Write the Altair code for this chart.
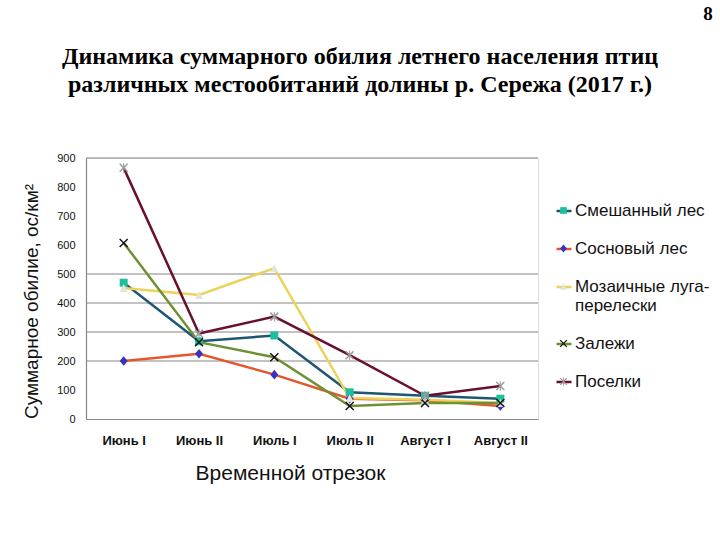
import altair as alt
import pandas as pd

periods = ["Июнь I", "Июнь II", "Июль I", "Июль II", "Август I", "Август II"]
series = ["Смешанный лес", "Сосновый лес", "Мозаичные луга-перелески", "Залежи", "Поселки"]

mixed_forest = [470, 268, 288, 92, 80, 70]
pine_forest = [200, 225, 153, 70, 65, 45]
meadows = [452, 428, 520, 72, 66, 55]
fallows = [607, 265, 213, 45, 55, 55]
settlements = [866, 295, 353, 220, 80, 114]

title_lines = ["Динамика суммарного обилия летнего населения птиц",
               "различных местообитаний долины р. Сережа (2017 г.)"]
page_number = ["8"]

line_colors = ["#1F5673", "#E4572E", "#EBD35A", "#6F9034", "#6A0F30"]
marker_colors = ["#1FBF9C", "#3434C0", "#E4E4DA", "#111111", "#9A9A9A"]
X_SHAPE = ("M-1.127,-0.873L0.873,1.127L1.127,0.873L-0.873,-1.127Z"
           "M-0.873,1.127L1.127,-0.873L0.873,-1.127L-1.127,0.873Z")
marker_shapes = [
    "M-1,-1L1,-1L1,1L-1,1Z",
    "M0,-1.2L1,0L0,1.2L-1,0Z",
    "M0,-1L1,1L-1,1Z",
    X_SHAPE,
    X_SHAPE + "M-0.13,-1.2L-0.13,1.2L0.13,1.2L0.13,-1.2Z",
]

grid_values = [200, 300, 400, 500, 900]
y_ticks = [0, 100, 200, 300, 400, 500, 600, 700, 800, 900]

values = [mixed_forest, pine_forest, meadows, fallows, settlements]
rows = []
for s, vals in zip(series, values):
    for p, v in zip(periods, vals):
        rows.append({"period": p, "series": s, "series2": s, "value": v})
df = pd.DataFrame(rows)

FONT = "Liberation Sans"
SERIF = "Liberation Serif"
label_expr = "datum.label == 'Мозаичные луга-перелески' ? ['Мозаичные луга-', 'перелески'] : datum.label"

y_scale = alt.Scale(domain=[0, 900], nice=False)
y_axis = alt.Axis(title="Суммарное обилие, ос/км²", values=y_ticks, grid=False, tickSize=0,
                  labelOverlap=False, labelFlush=False,
                  labelPadding=11, labelFont=FONT, labelFontSize=11, labelColor="#111",
                  domainColor="#868686", domainWidth=1.2,
                  titleFont=FONT, titleFontSize=19, titleFontWeight="normal", titleColor="#111",
                  titleX=-55, titleY=143, titleAngle=-90, titleBaseline="middle")

x_enc = alt.X(
    "period:N", sort=periods,
    scale=alt.Scale(paddingOuter=0.5, paddingInner=0),
    axis=alt.Axis(title="Временной отрезок", labelAngle=0, tickSize=0, labelPadding=15,
                  labelFont=FONT, labelFontSize=13, labelFontWeight="bold", labelColor="#111",
                  domainColor="#868686", domainWidth=1.2,
                  titleFont=FONT, titleFontSize=21, titleFontWeight="normal", titleColor="#111",
                  titleX=204, titleY=54, titleBaseline="middle"),
)

grid = alt.Chart(pd.DataFrame({"g": grid_values})).mark_rule(color="#868686", strokeWidth=1.2).encode(
    y=alt.Y("g:Q", scale=y_scale, axis=y_axis)
)

lines = alt.Chart(df).mark_line(strokeWidth=2.5).encode(
    x=x_enc,
    y=alt.Y("value:Q", scale=y_scale, axis=y_axis),
    color=alt.Color(
        "series:N",
        scale=alt.Scale(domain=series, range=line_colors),
        legend=alt.Legend(title=None, orient="none", legendX=469, legendY=44, padding=0,
                          symbolType="stroke", symbolSize=225, symbolStrokeWidth=2.5,
                          labelFont=FONT, labelFontSize=17, labelColor="#111", labelOffset=2,
                          labelExpr=label_expr, rowPadding=21, labelLimit=300),
    ),
)

leg2 = alt.Legend(title=None, orient="none", legendX=469, legendY=44, padding=0,
                  symbolSize=45, symbolStrokeWidth=0, symbolOffset=0,
                  labelFont=FONT, labelFontSize=17, labelOpacity=0, labelOffset=2,
                  labelExpr=label_expr, rowPadding=20, labelLimit=300)

points = alt.Chart(df).mark_point(size=64, opacity=1, filled=True, strokeWidth=0).encode(
    x=alt.X("period:N", sort=periods),
    y=alt.Y("value:Q", scale=y_scale, axis=y_axis),
    color=alt.Color("series2:N", scale=alt.Scale(domain=series, range=marker_colors), legend=leg2),
    shape=alt.Shape("series2:N", scale=alt.Scale(domain=series, range=marker_shapes), legend=leg2),
)

page_no = alt.Chart(pd.DataFrame({"t": page_number})).mark_text(
    font=SERIF, fontSize=19, fontWeight="bold", color="#000", align="center", baseline="middle"
).encode(text="t:N", x=alt.value(622), y=alt.value(-144))

title1 = alt.Chart(pd.DataFrame({"t": title_lines[:1]})).mark_text(
    font=SERIF, fontSize=24, fontWeight="bold", color="#000", align="center", baseline="middle"
).encode(text="t:N", x=alt.value(274), y=alt.value(-101))

title2 = alt.Chart(pd.DataFrame({"t": title_lines[1:]})).mark_text(
    font=SERIF, fontSize=24, fontWeight="bold", color="#000", align="center", baseline="middle"
).encode(text="t:N", x=alt.value(274), y=alt.value(-73))

chart = alt.layer(grid, lines, points, page_no, title1, title2).resolve_scale(
    color="independent", shape="independent"
).properties(
    width=452, height=261,
    autosize=alt.AutoSizeParams(type="none"),
    padding={"left": 86, "top": 158, "right": 182, "bottom": 121},
).configure_view(stroke=None).configure(background="white")

chart.save("out.html", embed_options={"renderer": "svg", "actions": False})
